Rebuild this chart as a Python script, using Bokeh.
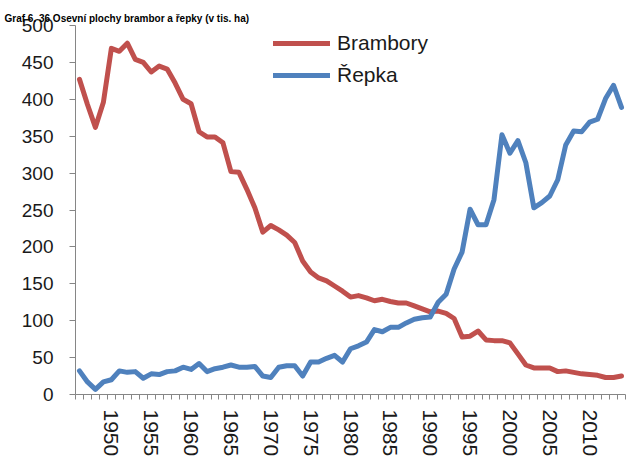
from bokeh.plotting import figure
from bokeh.models import FixedTicker, Legend, LegendItem
from bokeh.embed import file_html
from bokeh.resources import INLINE

# ---- data ----
years = list(range(1946, 2015))
brambory = [427, 393, 362, 396, 469, 465, 476, 454, 450, 437,
            445, 441, 422, 400, 394, 356, 349, 349, 341, 302,
            301, 278, 253, 220, 229, 223, 216, 206, 181, 166,
            158, 154, 147, 140, 132, 134, 131, 127, 129, 126,
            124, 124, 120, 116, 112, 113, 110, 103, 78, 79,
            86, 74, 73, 73, 70, 55, 40, 36, 36, 36,
            31, 32, 30, 28, 27, 26, 23, 23, 25]
repka = [32, 17, 7, 17, 20, 32, 30, 31, 22, 28,
         27, 31, 32, 37, 34, 42, 31, 35, 37, 40,
         37, 37, 38, 25, 23, 37, 39, 39, 25, 44,
         44, 49, 53, 44, 62, 66, 71, 88, 85, 91,
         91, 97, 102, 104, 105, 125, 136, 170, 193, 251,
         230, 230, 264, 352, 327, 344, 314, 253, 260, 269,
         291, 338, 357, 356, 369, 373, 401, 419, 389]
x_tick_labels = ["1950", "1955", "1960", "1965", "1970", "1975",
                 "1980", "1985", "1990", "1995", "2000", "2005", "2010"]
y_ticks = [0, 50, 100, 150, 200, 250, 300, 350, 400, 450, 500]
series_names = ["Brambory", "Řepka"]
title_text = "Graf 6. 36 Osevní plochy brambor a řepky (v tis. ha)"

RED = "#C0504D"
BLUE = "#4F81BD"
AXIS = "#868686"
TXT = "#1a1a1a"
FONT = "Liberation Sans"

p = figure(width=629, height=459,
           x_range=(years[0] - 0.5, years[-1] + 0.5), y_range=(y_ticks[0], y_ticks[-1]),
           output_backend="svg", toolbar_location=None,
           min_border_left=75, min_border_top=25, min_border_right=4, min_border_bottom=63)
p.outline_line_color = None
p.xgrid.visible = False
p.ygrid.visible = False

p.title.text = title_text
p.title.text_font = FONT
p.title.text_font_size = "10px"
p.title.text_font_style = "bold"
p.title.text_color = "#000000"
p.title.align = "left"
p.title.vertical_align = "top"
p.title.offset = -71
p.title.standoff = 0

r1 = p.line(years, brambory, line_color=RED, line_width=5, line_join="round", line_cap="round")
r2 = p.line(years, repka, line_color=BLUE, line_width=5, line_join="round", line_cap="round")

# y axis
ya = p.yaxis[0]
ya.ticker = FixedTicker(ticks=y_ticks, minor_ticks=[])
ya.axis_line_color = AXIS
ya.major_tick_line_color = AXIS
ya.major_tick_in = 0
ya.major_tick_out = 6
ya.minor_tick_line_color = None
ya.major_label_standoff = 16
ya.major_label_text_font = FONT
ya.major_label_text_font_size = "19px"
ya.major_label_text_color = TXT

# x axis
tick_pos = [int(t) for t in x_tick_labels]
xa = p.xaxis[0]
xa.ticker = FixedTicker(ticks=tick_pos, minor_ticks=[y - 0.5 for y in years] + [years[-1] + 0.5])
xa.major_label_overrides = {t: s for t, s in zip(tick_pos, x_tick_labels)}
xa.axis_line_color = AXIS
xa.major_tick_line_color = None
xa.major_tick_in = 0
xa.major_tick_out = 5
xa.minor_tick_line_color = AXIS
xa.minor_tick_in = 0
xa.minor_tick_out = 5
xa.major_label_orientation = "vertical"
xa.major_label_standoff = 10
xa.major_label_text_font = FONT
xa.major_label_text_font_size = "21px"
xa.major_label_text_color = TXT

legend = Legend(items=[LegendItem(label=series_names[0], renderers=[r1]),
                       LegendItem(label=series_names[1], renderers=[r2])],
                location=(198, 307), glyph_width=57, glyph_height=20, label_height=20,
                label_standoff=7, spacing=8, padding=0, margin=0,
                border_line_alpha=0, background_fill_alpha=0,
                label_text_font=FONT, label_text_font_size="21px", label_text_color=TXT)
p.add_layout(legend, "center")

open("out.html", "w").write(file_html(p, INLINE))
